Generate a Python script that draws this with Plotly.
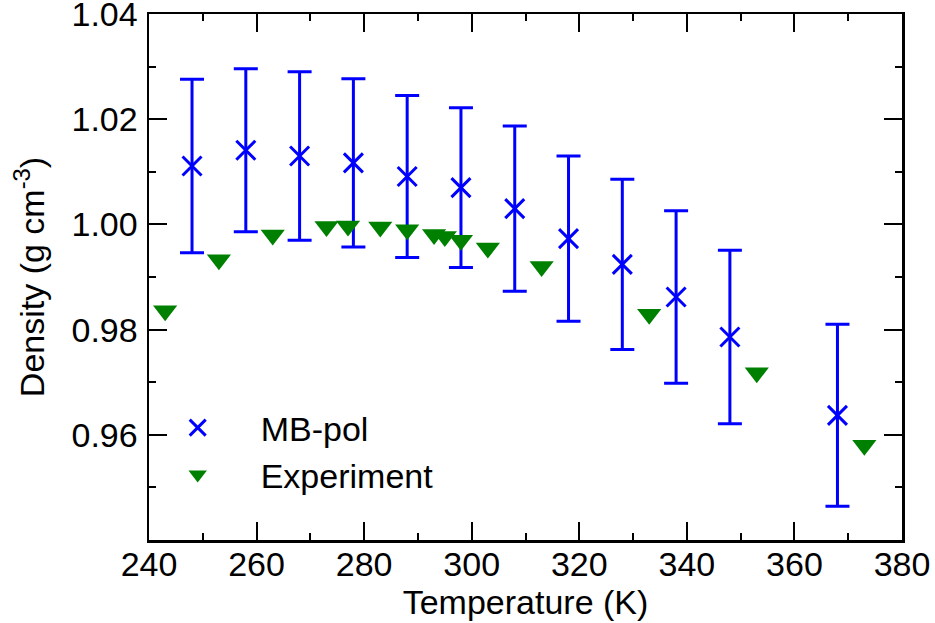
import plotly.graph_objects as go

mb_temp = [248, 258, 268, 278, 288, 298, 308, 318, 328, 338, 348, 368]
mb_dens = [1.0111, 1.0141, 1.0130, 1.0117, 1.0091, 1.0070, 1.0030, 0.9973, 0.9924, 0.9862, 0.9786, 0.9637]
mb_err = [0.0165, 0.0155, 0.0160, 0.0160, 0.0154, 0.0152, 0.0157, 0.0157, 0.0162, 0.0164, 0.0165, 0.0173]

exp_temp = [243, 253, 263, 273, 277, 283, 288, 293, 295, 298, 303, 313, 333, 353, 373]
exp_dens = [0.9836, 0.9933, 0.9980, 0.9996, 0.9997, 0.9995, 0.9990, 0.9981, 0.9977, 0.9970, 0.9955, 0.9920, 0.9829, 0.9718, 0.9580]

x_ticks = [240, 260, 280, 300, 320, 340, 360, 380]
y_ticks = [0.96, 0.98, 1.00, 1.02, 1.04]

FONT = "Liberation Sans, Arial, Helvetica, sans-serif"
FS = 34

fig = go.Figure()
fig.add_trace(go.Scatter(
    x=mb_temp, y=mb_dens, mode="markers", name="MB-pol", legend="legend",
    marker=dict(symbol="x-thin", size=19, color="#0000ff",
                line=dict(width=3, color="#0000ff")),
    error_y=dict(type="data", array=mb_err, visible=True,
                 color="#0000ff", thickness=3, width=12),
))
fig.add_trace(go.Scatter(
    x=exp_temp, y=exp_dens, mode="markers", name="Experiment", legend="legend2",
    marker=dict(symbol="triangle-down", size=21, color="#008000",
                line=dict(width=0)),
))

axis_common = dict(
    showline=True, linecolor="black", linewidth=2.5, mirror="allticks",
    ticks="inside", ticklen=18, tickwidth=2, tickcolor="black",
    showgrid=False, zeroline=False, automargin=False,
    ticklabeloverflow="allow",
    tickfont=dict(size=FS, color="black", family=FONT),
)

fig.update_xaxes(
    range=[240, 380], tickvals=x_ticks, ticktext=[str(v) for v in x_ticks],
    ticklabelstandoff=-7,
    title=dict(text="Temperature (K)", font=dict(size=FS, color="black", family=FONT), standoff=5),
    minor=dict(ticks="inside", ticklen=7, tickwidth=2, tickcolor="black", dtick=10, tick0=240, showgrid=False),
    **axis_common,
)
fig.update_yaxes(
    range=[0.94, 1.04], tickvals=y_ticks, ticktext=[f"{v:.2f}" for v in y_ticks],
    ticklabelstandoff=2,
    title=dict(text="Density (g cm<sup>-3</sup>)", font=dict(size=FS, color="black", family=FONT), standoff=17),
    minor=dict(ticks="inside", ticklen=7, tickwidth=2, tickcolor="black", dtick=0.01, tick0=0.94, showgrid=False),
    **axis_common,
)

legend_common = dict(
    xanchor="left", yanchor="top", bgcolor="rgba(0,0,0,0)", borderwidth=0,
    font=dict(size=FS, color="black", family=FONT), itemwidth=116,
)

fig.update_layout(
    width=935, height=623,
    margin=dict(l=149, r=33, t=14, b=83),
    paper_bgcolor="white", plot_bgcolor="white",
    font=dict(family=FONT, color="black"),
    showlegend=True,
    hovermode=False,
    legend=dict(x=-0.019, y=0.268, **legend_common),
    legend2=dict(x=-0.019, y=0.179, **legend_common),
)

fig.write_html("out.html", config={"displayModeBar": False, "staticPlot": True},
               post_script="document.body.style.margin='0';")
